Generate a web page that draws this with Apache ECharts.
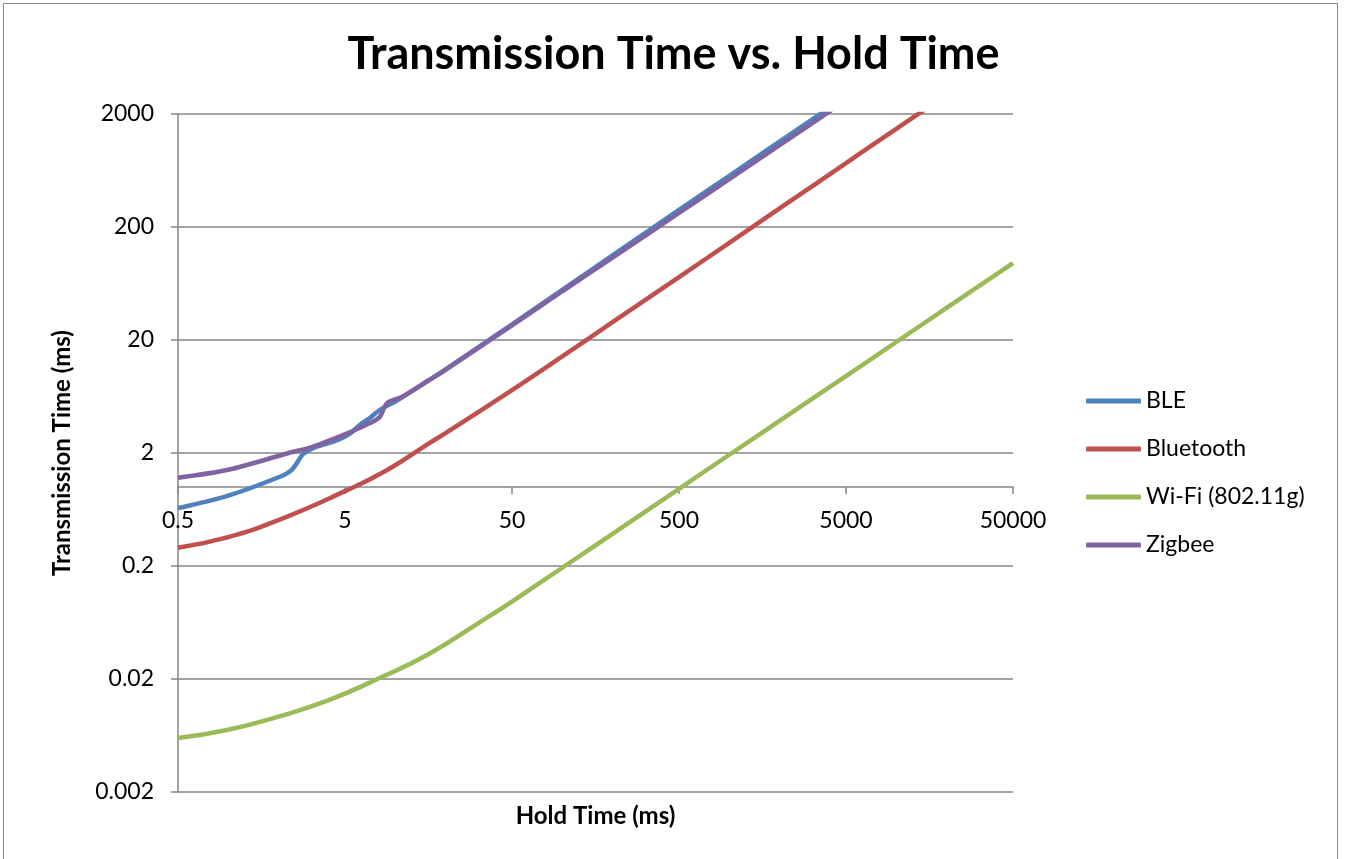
<!DOCTYPE html>
<html>
<head>
<meta charset="utf-8">
<script src="https://cdn.jsdelivr.net/npm/echarts@6/dist/echarts.min.js"></script>
<style>
  html, body { margin: 0; padding: 0; background: #fff; }
  #wrap { position: relative; width: 1347px; height: 859px; overflow: hidden; }
  #chart { position: absolute; left: 0; top: 0; width: 1347px; height: 859px; }
  #frame { position: absolute; left: 3px; top: 3px; width: 1333px; height: 870px; border: 1.5px solid #8a8a8a; pointer-events: none; }
</style>
</head>
<body>
<div id="wrap"><div id="chart"></div><div id="frame"></div></div>
<script>
// ---- data ----
const titleText = 'Transmission Time vs. Hold Time';
const xAxisName = 'Hold Time (ms)';
const yAxisName = 'Transmission Time (ms)';

const xTickLabels = ['0.5', '5', '50', '500', '5000', '50000'];
const yTickLabels = ['0.002', '0.02', '0.2', '2', '20', '200', '2000'];

const seriesNames = ['BLE', 'Bluetooth', 'Wi-Fi (802.11g)', 'Zigbee'];

const bleHold = [0.5, 1, 2, 2.4, 2.8, 3.2, 4.5, 5.4, 6.2, 7, 8, 9, 10, 16, 20, 50, 100, 200, 500, 1000, 2000, 5000];
const bleTime = [0.65, 0.84, 1.22, 1.42, 1.95, 2.2, 2.6, 3.0, 3.6, 4.05, 4.75, 5.3, 5.7, 8.9, 11, 27.5, 55.5, 112, 283, 568, 1140, 2860];

const btHold = [0.5, 1, 2, 5, 9, 16, 20, 50, 100, 200, 500, 1000, 2000, 5000, 10000, 20000];
const btTime = [0.29, 0.36, 0.51, 0.92, 1.42, 2.45, 3.0, 7.2, 14.3, 28.8, 72, 145, 292, 735, 1480, 2960];

const wifiHold = [0.5, 1, 2, 4, 8, 16, 32, 50, 100, 250, 500, 1000, 2000, 5000, 10000, 20000, 50000];
const wifiTime = [0.006, 0.0071, 0.0093, 0.013, 0.0203, 0.0335, 0.0635, 0.097, 0.193, 0.482, 0.965, 1.93, 3.85, 9.6, 19.2, 38.4, 96];

const zigHold = [0.5, 1, 2.3, 3.2, 5.2, 7, 8.1, 8.9, 11, 16, 20, 50, 100, 200, 500, 1000, 2000, 5000];
const zigTime = [1.21, 1.42, 2.0, 2.27, 3.0, 3.66, 4.19, 5.5, 6.3, 8.85, 10.9, 27, 54, 107, 266, 530, 1058, 2640];

// ---- layout / style ----
const xMin = 0.5, xMax = 50000, yMin = 0.002, yMax = 2000, yCross = 1;
const gridL = 178, gridT = 114, gridW = 835, gridH = 678;
const colors = ['#4F81BD', '#C0504D', '#9BBB59', '#8064A2'];
const smoothing = [0.3, 0.5, 0.5, 0.3];
const FONT = 'Lato, "Open Sans", sans-serif';
const axisGray = '#868686';

const crossFrac = (Math.log10(yCross) - Math.log10(yMin)) / (Math.log10(yMax) - Math.log10(yMin));
const xAxisOffset = -gridH * crossFrac;

function pairs(xs, ys) { return xs.map((x, i) => [x, ys[i]]); }
const seriesData = [pairs(bleHold, bleTime), pairs(btHold, btTime), pairs(wifiHold, wifiTime), pairs(zigHold, zigTime)];

const chart = echarts.init(document.getElementById('chart'), null, { renderer: 'canvas' });
chart.setOption({
  animation: false,
  backgroundColor: '#fff',
  title: {
    text: titleText, left: 'center', top: 27,
    textStyle: { fontFamily: FONT, fontWeight: 'bold', fontSize: 45, color: '#000' }
  },
  legend: {
    orient: 'vertical', left: 1086, top: 389, padding: 0,
    itemWidth: 55, itemHeight: 5, itemGap: 24, icon: 'roundRect',
    textStyle: { fontFamily: FONT, fontSize: 23, color: '#000', lineHeight: 24 },
    data: seriesNames
  },
  grid: { left: gridL, top: gridT, width: gridW, height: gridH, containLabel: false },
  xAxis: [
    { type: 'log', logBase: 10, min: xMin, max: xMax, show: false },
    {
      type: 'category', data: xTickLabels, boundaryGap: false, position: 'bottom',
      offset: xAxisOffset,
      axisLine: { show: true, onZero: false, lineStyle: { color: axisGray, width: 1.5 } },
      axisTick: { show: true, length: 7, alignWithLabel: true, interval: 0, lineStyle: { color: axisGray, width: 1.5 } },
      axisLabel: { interval: 0, margin: 22, fontFamily: FONT, fontSize: 23, color: '#000' },
      splitLine: { show: false },
      name: xAxisName, nameLocation: 'middle', nameGap: -xAxisOffset + 12,
      nameTextStyle: { fontFamily: FONT, fontWeight: 'bold', fontSize: 24, color: '#000', verticalAlign: 'top' }
    }
  ],
  yAxis: [
    { type: 'log', logBase: 10, min: yMin, max: yMax, show: false },
    {
      type: 'category', data: yTickLabels, boundaryGap: false, position: 'left',
      axisLine: { show: true, onZero: false, lineStyle: { color: axisGray, width: 1.5 } },
      axisTick: { show: true, length: 7, alignWithLabel: true, interval: 0, lineStyle: { color: axisGray, width: 1.5 } },
      axisLabel: { interval: 0, margin: 24, fontFamily: FONT, fontSize: 23, color: '#000' },
      splitLine: { show: true, interval: 0, lineStyle: { color: axisGray, width: 1.5 } },
      name: yAxisName, nameLocation: 'middle', nameGap: 104,
      nameTextStyle: { fontFamily: FONT, fontWeight: 'bold', fontSize: 24, color: '#000' }
    }
  ],
  series: seriesNames.map((name, i) => ({
    name: name, type: 'line', xAxisIndex: 0, yAxisIndex: 0,
    data: seriesData[i], smooth: smoothing[i], symbol: 'none', showSymbol: false, clip: true,
    lineStyle: { color: colors[i], width: 4.5 }, itemStyle: { color: colors[i] }
  }))
});
</script>
</body>
</html>
